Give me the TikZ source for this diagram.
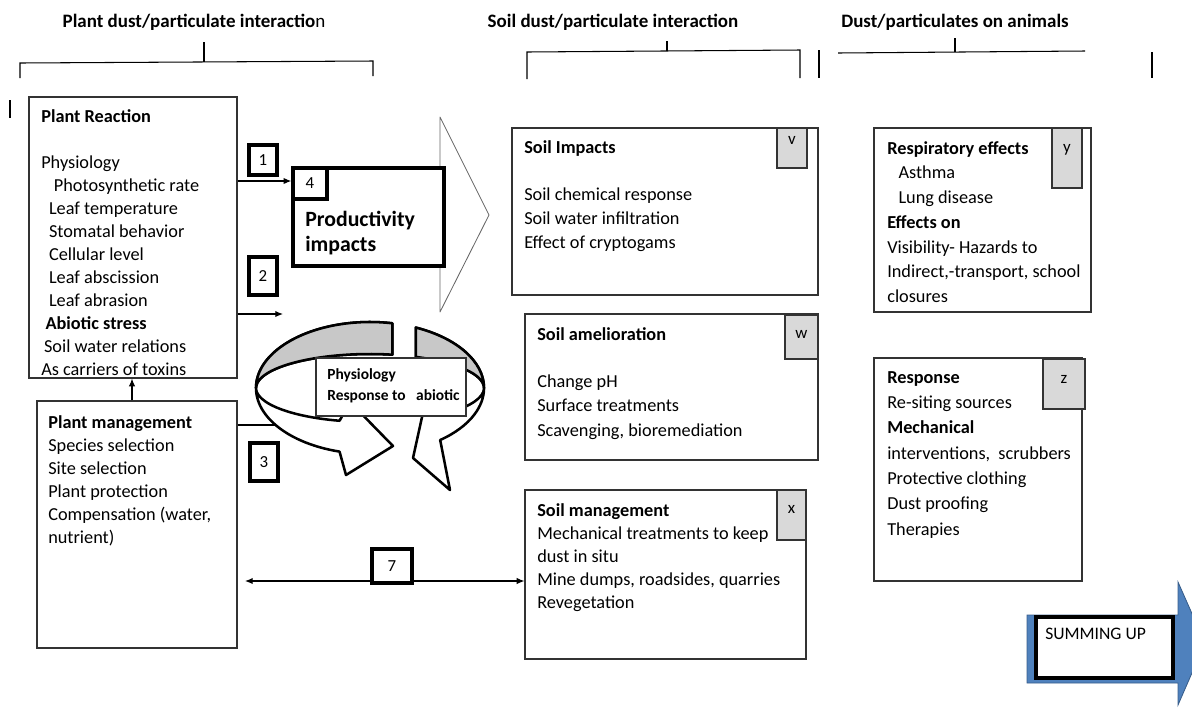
\documentclass[tikz,border=0pt]{standalone}
\usepackage{fontspec}
\setmainfont{Carlito}
\usepackage{tikz}
\usetikzlibrary{arrows.meta,positioning,fit,calc}

\definecolor{tagfill}{RGB}{217,217,217}
\definecolor{ringgray}{RGB}{200,200,200}
\definecolor{sumblue}{RGB}{79,129,189}
\definecolor{sumedge}{RGB}{56,93,138}

\begin{document}
\begin{tikzpicture}[
  x=0.025cm, y=-0.025cm,
  >={Latex[length=5.5pt,width=4.5pt]},
  panel/.style={draw=black!80, line width=0.75pt, fill=white, inner sep=0pt},
  tagbox/.style={draw=black!80, line width=0.75pt, fill=tagfill, inner sep=0pt},
  tagletter/.style={inner sep=0pt, font=\fontsize{12}{14}\selectfont},
  numbox/.style={draw=black, line width=2.4pt, fill=white, inner sep=0pt, font=\fontsize{12}{14}\selectfont},
  listtxt/.style={anchor=north west, align=left, inner sep=0pt},
  head/.style={font=\fontsize{13.5}{16}\selectfont\bfseries, inner sep=0pt},
  link/.style={->, line width=0.75pt},
  ring/.style={draw, line width=1.8pt, fill=white, line join=round}
]
\useasboundingbox (0,0) rectangle (1192,713);
\clip (0,0) rectangle (1192,713);

% headings and brackets
\node[head] (plhead) at (194,22) {Plant dust/particulate interactio{\mdseries n}};
\node[head] (soilhead) at (613,22) {Soil dust/particulate interaction};
\node[head] (animhead) at (955,22) {Dust/particulates on animals};

\draw[line width=0.75pt] (20,78) -- (20,63) -- (373,61) -- (373,76);
\draw[line width=0.75pt] (204,62) -- (204,42);
\draw[line width=0.75pt] (527,79) -- (527,52) -- (800,50) -- (800,78);
\draw[line width=0.75pt] (667,51) -- (667,41);
\draw[line width=0.75pt] (819,50) -- (819,78);
\draw[line width=0.75pt] (838,53) -- (1085,51);
\draw[line width=0.75pt] (955,52) -- (955,38);
\draw[line width=0.75pt] (1152,52) -- (1152,78);
\draw[line width=1.2pt] (10,100) -- (10,118);

% plant side
\node[panel, fit={(29,97)(237,378)}] (react) {};
\node[listtxt, font=\fontsize{13}{16.4}\selectfont] (reacttxt) at (41,109) {%
\textbf{Plant Reaction}\\[16.4pt]
Physiology\\
\hspace*{9pt}Photosynthetic rate\\
\hspace*{5.5pt}Leaf temperature\\
\hspace*{5.5pt}Stomatal behavior\\
\hspace*{5.5pt}Cellular level\\
\hspace*{5.5pt}Leaf abscission\\
\hspace*{5.5pt}Leaf abrasion\\
\hspace*{3pt}\textbf{Abiotic stress}\\
\hspace*{2pt}Soil water relations\\
As carriers of toxins};

\node[panel, fit={(37,401)(237,648)}] (mgmt) {};
\node[listtxt, font=\fontsize{13}{16.4}\selectfont] (mgmttxt) at (48,415) {%
\textbf{Plant management}\\
Species selection\\
Site selection\\
Plant protection\\
Compensation (water,\\
nutrient)};

\draw[link] (mgmt.north -| 132,0) -- (react.south -| 132,0);

% hollow arrow head behind the productivity box
\draw[draw=black!60, line width=0.6pt, line join=round] (440,117) -- (489,215) -- (440,312) -- cycle;

\node[panel, draw=black, line width=2.4pt, fit={(293,168)(444,266)}] (prod) {};
\node[numbox, minimum width=0.85cm, minimum height=0.78cm] (n4) at (310,183.5) {4};
\node[listtxt, font=\fontsize{15.5}{17.5}\selectfont\bfseries] (prodtxt) at (305,211) {Productivity\\impacts};

\node[numbox, minimum width=0.7cm, minimum height=0.75cm] (n1) at (263,160) {1};
\node[numbox, minimum width=0.7cm, minimum height=0.95cm] (n2) at (263,276) {2};
\node[numbox, minimum width=0.7cm, minimum height=0.95cm] (n3) at (264,462) {3};

\draw[link] (react.east |- 0,181) -- (prod.west |- 0,181);
\coordinate (tip2) at (283,314);
\draw[link] (react.east |- tip2) -- (tip2);
\coordinate (tip3) at (297,425);
\draw[link] (mgmt.east |- tip3) -- (tip3);

% cycle of two curved arrows
\coordinate (rc) at (370,388);
\filldraw[ring] ($(rc)+(-78.7:114 and 66)$)
  arc[start angle=-78.7, end angle=-254.5, x radius=114, y radius=66]
  -- (346,475) -- (393,446) -- (350,402)
  -- ($(rc)+(105.5:114 and 34)$)
  arc[start angle=105.5, end angle=281.3, x radius=114, y radius=34] -- cycle;
\filldraw[ring, fill=ringgray] ($(rc)+(-78.7:114 and 66)$)
  arc[start angle=-78.7, end angle=-180, x radius=114, y radius=66]
  arc[start angle=180, end angle=281.3, x radius=114, y radius=34] -- cycle;
\filldraw[ring] ($(rc)+(-66.3:114 and 66)$)
  arc[start angle=-66.3, end angle=52, x radius=114, y radius=66]
  -- (450,490) -- (413,458) -- (424,408)
  -- ($(rc)+(52:114 and 34)$)
  arc[start angle=52, end angle=-66.3, x radius=114, y radius=34] -- cycle;
\filldraw[ring, fill=ringgray] ($(rc)+(-66.3:114 and 66)$)
  arc[start angle=-66.3, end angle=0, x radius=114, y radius=66]
  arc[start angle=0, end angle=-66.3, x radius=114, y radius=34] -- cycle;

\node[panel, fit={(316,358)(466,416)}] (physbox) {};
\node[listtxt, font=\fontsize{11}{15.5}\selectfont\bfseries] (phystxt) at (327,368) {Physiology\\Response to~~ abiotic};

% soil side
\node[panel, fit={(512,128)(818,295)}] (soilimp) {};
\node[tagbox, fit={(777,128)(807,168)}] (tagv) {};
\node[tagletter, below=6.5pt of tagv.north] (tagvtxt) {v};
\node[listtxt, font=\fontsize{13}{17}\selectfont] (soilimptxt) at (524,140) {%
\textbf{Soil Impacts}\\[17pt]
Soil chemical response\\
Soil water infiltration\\
Effect of cryptogams};

\node[panel, fit={(525,314)(818,460)}] (soilamel) {};
\node[tagbox, fit={(785,315)(818,359)}] (tagw) {};
\node[tagletter, below=11pt of tagw.north] (tagwtxt) {w};
\node[listtxt, font=\fontsize{13}{17.5}\selectfont] (soilameltxt) at (537,327) {%
\textbf{Soil amelioration}\\[16pt]
Change pH\\
Surface treatments\\
Scavenging, bioremediation};

\node[panel, fit={(525,490)(806,659)}] (soilmgmt) {};
\node[tagbox, fit={(777,490)(806,540)}] (tagx) {};
\node[tagletter, below=11pt of tagx.north] (tagxtxt) {x};
\node[listtxt, font=\fontsize{13}{16.5}\selectfont] (soilmgmttxt) at (537,503) {%
\textbf{Soil management}\\
Mechanical treatments to keep\\
dust in situ\\
Mine dumps, roadsides, quarries\\
Revegetation};

\coordinate (tip7) at (245,581);
\draw[link, <->] (tip7) -- (soilmgmt.west |- tip7);
\node[numbox, minimum width=1.0cm, minimum height=0.85cm] (n7) at (392,566) {7};

% animal side
\node[panel, fit={(874,128)(1091,312)}] (resp) {};
\node[tagbox, fit={(1052,128)(1082,188)}] (tagy) {};
\node[tagletter, below=12pt of tagy.north] (tagytxt) {y};
\node[listtxt, font=\fontsize{13}{17.6}\selectfont] (resptxt) at (887,141) {%
\textbf{Respiratory effects}\\
\hspace*{8pt}Asthma\\
\hspace*{8pt}Lung disease\\
\textbf{Effects on}\\
Visibility- Hazards to\\
Indirect,-transport, school\\
closures};

\node[panel, fit={(874,358)(1082,581)}] (respons) {};
\node[tagbox, fit={(1043,359)(1085,409)}] (tagz) {};
\node[tagletter, below=12pt of tagz.north] (tagztxt) {z};
\node[listtxt, font=\fontsize{13}{18}\selectfont] (responstxt) at (887,371) {%
\textbf{Response}\\
Re-siting sources\\
\textbf{Mechanical}\\
interventions,~ scrubbers\\
Protective clothing\\
Dust proofing\\
Therapies};

% summing up arrow
\filldraw[fill=sumblue, draw=sumedge, line width=0.6pt] (1027,615) -- (1178,615) -- (1178,582)
  -- (1205,643) -- (1178,705) -- (1178,683) -- (1027,683) -- cycle;
\node[draw=black, line width=2.6pt, fill=white, inner sep=0pt, fit={(1036,617)(1173,678)}] (sumbox) {};
\node[listtxt, font=\fontsize{12.5}{15}\selectfont] (sumtxt) at (1045,628) {SUMMING UP};
\end{tikzpicture}
\end{document}
